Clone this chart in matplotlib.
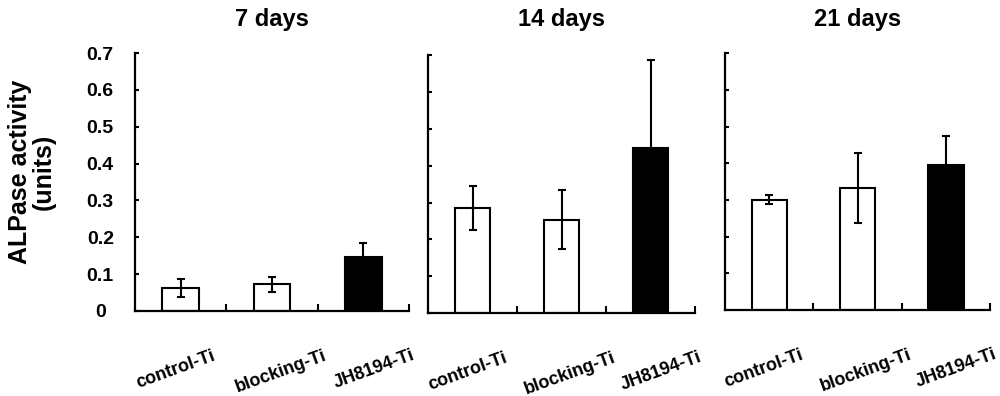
import matplotlib.pyplot as plt

plt.rcParams['font.family'] = ['Liberation Sans', 'DejaVu Sans']
plt.rcParams['font.weight'] = 'bold'

groups = ["control-Ti", "blocking-Ti", "JH8194-Ti"]
titles = ["7 days", "14 days", "21 days"]

mean_7 = [0.062, 0.072, 0.147]
err_7 = [0.024, 0.021, 0.038]
mean_14 = [0.285, 0.253, 0.448]
err_14 = [0.060, 0.080, 0.240]
mean_21 = [0.301, 0.333, 0.397]
err_21 = [0.012, 0.095, 0.077]

colors = ["white", "white", "black"]
yticks = [0, 0.1, 0.2, 0.3, 0.4, 0.5, 0.6, 0.7]
ytick_labels = ["0", "0.1", "0.2", "0.3", "0.4", "0.5", "0.6", "0.7"]

if __name__ == "__main__":
    fig = plt.figure(figsize=(10, 3.96), dpi=100)
    boxes = [[0.135, 0.215, 0.274, 0.651],
             [0.428, 0.210, 0.267, 0.650],
             [0.725, 0.217, 0.265, 0.648]]
    data = [(mean_7, err_7), (mean_14, err_14), (mean_21, err_21)]
    pos = [1, 2, 3]
    label_shift = [-0.06, 0.1, 0.12]  # labels sit a little off the bar centres

    for i, (box, (m, e), title) in enumerate(zip(boxes, data, titles)):
        ax = fig.add_axes(box)
        ax.bar(pos, m, width=0.4, color=colors, edgecolor="black", linewidth=1.5,
               yerr=e, error_kw=dict(ecolor="black", elinewidth=1.5, capsize=3, capthick=1.5))
        ax.set_xlim(0.5, 3.5)
        ax.set_ylim(0, 0.7)
        ax.spines["top"].set_visible(False)
        ax.spines["right"].set_visible(False)
        ax.spines["left"].set_linewidth(1.6)
        ax.spines["bottom"].set_linewidth(1.6)

        ax.set_yticks(yticks)
        ax.tick_params(axis="y", direction="in", length=3, width=1.5)
        if i == 0:
            ax.set_yticklabels(ytick_labels, fontsize=14, fontweight="bold")
            ax.tick_params(axis="y", pad=25)
            for lab in ax.get_yticklabels():
                lab.set_horizontalalignment("center")
            ax.set_ylabel("ALPase activity\n(units)", fontsize=18, fontweight="bold",
                          linespacing=1.0)
            ax.yaxis.set_label_coords(-0.29, 0.54)
        else:
            ax.set_yticklabels([])

        ax.set_xticks([1.5, 2.5, 3.5])
        ax.set_xticklabels([])
        ax.tick_params(axis="x", which="major", direction="in", length=5, width=1.5)
        ax.set_xticks([p + s for p, s in zip(pos, label_shift)], minor=True)
        ax.set_xticklabels(groups, minor=True, rotation=20, fontsize=13, fontweight="bold",
                           ha="center", rotation_mode="default")
        ax.tick_params(axis="x", which="minor", length=0, pad=26)

        fig.text(box[0] + box[2] / 2, 0.95, title, fontsize=17, fontweight="bold",
                 ha="center", va="center")

    fig.savefig("out.png", dpi=100)
